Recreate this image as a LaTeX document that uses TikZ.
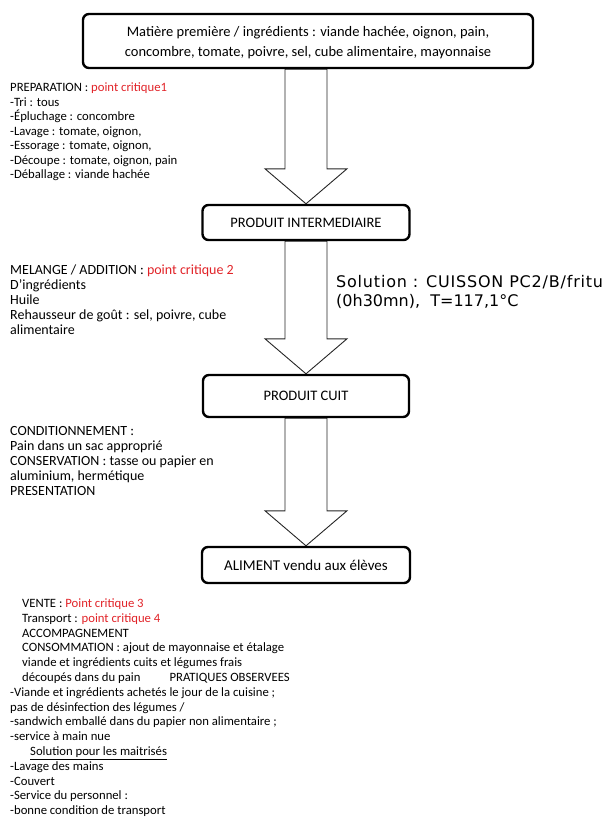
\documentclass[tikz,border=0pt]{standalone}
\usepackage{fontspec}
\setmainfont{Carlito}
\newfontfamily\solfont{DejaVu Sans}
\usetikzlibrary{calc}
\pgfdeclarelayer{background}
\pgfsetlayers{background,main}
\definecolor{crit}{RGB}{225,35,40}
\tikzset{
  stage/.style={draw=black, line width=2.4pt, rounded corners=6pt, fill=white,
    inner sep=0pt, align=center, font=\fontsize{14.5}{20}\selectfont},
  bigarrow/.style={draw=black!85, line width=0.9pt, fill=white, line join=miter},
  side/.style={anchor=north west, align=left, inner sep=0pt,
    font=\fontsize{14}{15}\selectfont},
}
\newcommand{\blockarrow}[2]{%
  \begin{pgfonlayer}{background}
  \draw[bigarrow] let \p1=(#1.south), \p2=(#2.north) in
    (\x2-21pt,\y1) -- (\x2+21pt,\y1) -- (\x2+21pt,\y2+35pt) -- (\x2+41pt,\y2+35pt)
    -- (\x2,\y2) -- (\x2-41pt,\y2+35pt) -- (\x2-21pt,\y2+35pt) -- cycle;
  \end{pgfonlayer}}
\begin{document}
\begin{tikzpicture}[x=1pt,y=-1pt]
\useasboundingbox (0,0) rectangle (611,840);
% stages
\node[stage, minimum width=450pt, minimum height=54pt] (b1) at (308,41) {};
\node[align=center, inner sep=0pt, font=\fontsize{14.5}{20}\selectfont] (b1t) at (308,43)
  {Matière première / ingrédients : viande hachée, oignon, pain,\\concombre, tomate, poivre, sel, cube alimentaire, mayonnaise};
\node[stage, minimum width=207pt, minimum height=35pt] (b2) at (306,222.5) {PRODUIT INTERMEDIAIRE};
\node[stage, minimum width=206pt, minimum height=42pt] (b3) at (306,396) {PRODUIT CUIT};
\node[stage, minimum width=208pt, minimum height=36pt, font=\fontsize{15}{18}\selectfont] (b4) at (306,565) {ALIMENT vendu aux élèves};
% block arrows
\blockarrow{b1}{b2}
\blockarrow{b2}{b3}
\blockarrow{b3}{b4}
% side texts
\node[side, font=\fontsize{12.7}{14.5}\selectfont] (prep) at (10,83) {PREPARATION : \textcolor{crit}{point critique1}\\
-Tri : tous\\
-Épluchage : concombre\\
-Lavage : tomate, oignon,\\
-Essorage : tomate, oignon,\\
-Découpe : tomate, oignon, pain\\
-Déballage : viande hachée};
\node[side] (mel) at (10,264.5) {MELANGE / ADDITION : \textcolor{crit}{point critique 2}\\
D’ingrédients\\
Huile\\
Rehausseur de goût : sel, poivre, cube\\
alimentaire};
\node[anchor=north west, inner sep=0pt, align=left,
  font=\solfont\fontsize{16}{19}\selectfont] (sol) at (336,275.5)
  {{\addfontfeatures{LetterSpace=5}Solution : CUISSON PC2/B/fritu}\\(0h30mn),\ \ T=117,1°C};
\node[side] (cond) at (10,426.5) {CONDITIONNEMENT :\\
Pain dans un sac approprié\\
CONSERVATION : tasse ou papier en\\
aluminium, hermétique\\
PRESENTATION};
\node[side, font=\fontsize{12.7}{14.8}\selectfont] (vente) at (10,598.5) {\hspace*{12pt}VENTE : \textcolor{crit}{Point critique 3}\\
\hspace*{12pt}Transport : \textcolor{crit}{point critique 4}\\
\hspace*{12pt}ACCOMPAGNEMENT\\
\hspace*{12pt}CONSOMMATION : ajout de mayonnaise et étalage\\
\hspace*{12pt}viande et ingrédients cuits et légumes frais\\
\hspace*{12pt}découpés dans du pain\hspace{2.3em}PRATIQUES OBSERVEES\\
-Viande et ingrédients achetés le jour de la cuisine ;\\
pas de désinfection des légumes /\\
-sandwich emballé dans du papier non alimentaire ;\\
-service à main nue\\
\hspace*{20pt}\underline{Solution pour les maitrisés}\\
-Lavage des mains\\
-Couvert\\
-Service du personnel :\\
-bonne condition de transport};
\end{tikzpicture}
\end{document}
